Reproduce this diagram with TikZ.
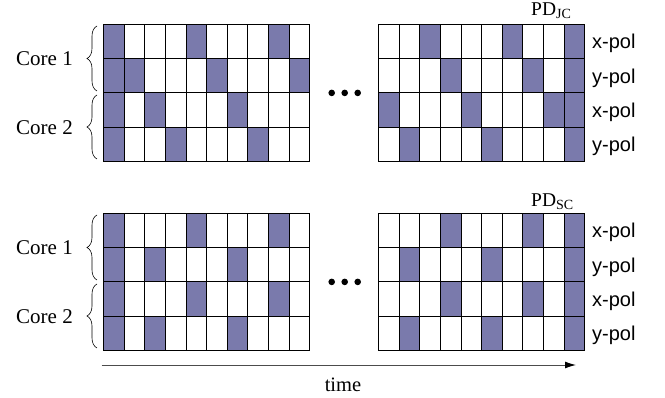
\documentclass[tikz,border=0pt]{standalone}
\usepackage{fontspec}
\setmainfont{Liberation Serif}
\setsansfont{Liberation Sans}
\usetikzlibrary{arrows,arrows.meta,decorations.pathreplacing,positioning}
\definecolor{slotblue}{RGB}{122,122,172}
\tikzset{
    raw slot/.style={draw=black, line width=0.8pt},
    busy slot/.style={raw slot, fill=slotblue},
    free slot/.style={raw slot, fill=white},
    pol label/.style={font=\sffamily\fontsize{20}{24}\selectfont, inner sep=0pt, anchor=west},
    core label/.style={font=\fontsize{21}{25}\selectfont, inner sep=0pt, anchor=east},
    pd label/.style={font=\fontsize{19.5}{23}\selectfont, inner sep=0pt, anchor=base west},
    core brace/.style={decorate, decoration={brace, amplitude=10pt}, line width=0.6pt}
}
\newcommand{\slotw}{20.65}
\newcommand{\sloth}{34.3}
\newcommand{\pdsub}[1]{\raisebox{-3.5pt}{\fontsize{14}{16}\selectfont #1}}
% one block of 4 x 10 slots, #3 = row/{busy columns}
\newcommand{\slotblock}[3]{%
  \begin{scope}[shift={(#1,#2)}]
    \foreach \r in {0,...,3}
      \foreach \c in {0,...,9}
        \draw[free slot] (\c*\slotw,\r*\sloth) rectangle ++(\slotw,\sloth);
    \foreach \r/\cols in {#3}
      \foreach \c in \cols
        \draw[busy slot] (\c*\slotw,\r*\sloth) rectangle ++(\slotw,\sloth);
  \end{scope}}

\begin{document}
\begin{tikzpicture}[x=1pt, y=-1pt, >=latex]
	\useasboundingbox (0,0) rectangle (665,398);
	% joint core
	\slotblock{103.3}{24.3}{0/{0,4,8},1/{0,1,5,9},2/{0,2,6},3/{0,3,7}}
	\slotblock{378.3}{24.3}{0/{2,6,9},1/{3,7,9},2/{0,4,8,9},3/{1,5,9}}
	% single core
	\slotblock{103.3}{213.3}{0/{0,4,8},1/{0,2,6},2/{0,4,8},3/{0,2,6}}
	\slotblock{378.3}{213.3}{0/{3,7,9},1/{1,5,9},2/{3,7,9},3/{1,5,9}}
	% dots
	\foreach \d in {0,1,2} {
		\fill (331.7+\d*13,92.9) circle (3.3);
		\fill (331.7+\d*13,281.9) circle (3.3);
	}
	\node[pd label] (pdjc) at (531,15.5) {PD\pdsub{JC}};
	\node[pd label] (pdsc) at (531,206.5) {PD\pdsub{SC}};
	\foreach \r/\p in {0/x,1/y,2/x,3/y} {
		\node[pol label] (jcpol\r) at (592,24.3+\r*34.3+19.4) {\p-pol};
		\node[pol label] (scpol\r) at (592,213.3+\r*34.3+19.4) {\p-pol};
	}
	% cores
	\node[core label] (jccore1) at (73,58.6) {Core 1};
	\node[core label] (jccore2) at (73,127.2) {Core 2};
	\node[core label] (sccore1) at (73,247.6) {Core 1};
	\node[core label] (sccore2) at (73,316.2) {Core 2};
	\draw[core brace] (97,91) -- (97,26);
	\draw[core brace] (97,159) -- (97,95);
	\draw[core brace] (97,280) -- (97,215);
	\draw[core brace] (97,348) -- (97,284);
	% time axis
	\coordinate (t0) at (101.7,365);
	\coordinate (t1) at (576,365);
	\draw[-{Latex[length=11pt, width=7pt, black]}, draw=black!70, line width=0.9pt] (t0) -- (t1);
	\node[font=\fontsize{20.5}{24}\selectfont, inner sep=0pt] (time) at (343,385) {time};
\end{tikzpicture}
\end{document}
